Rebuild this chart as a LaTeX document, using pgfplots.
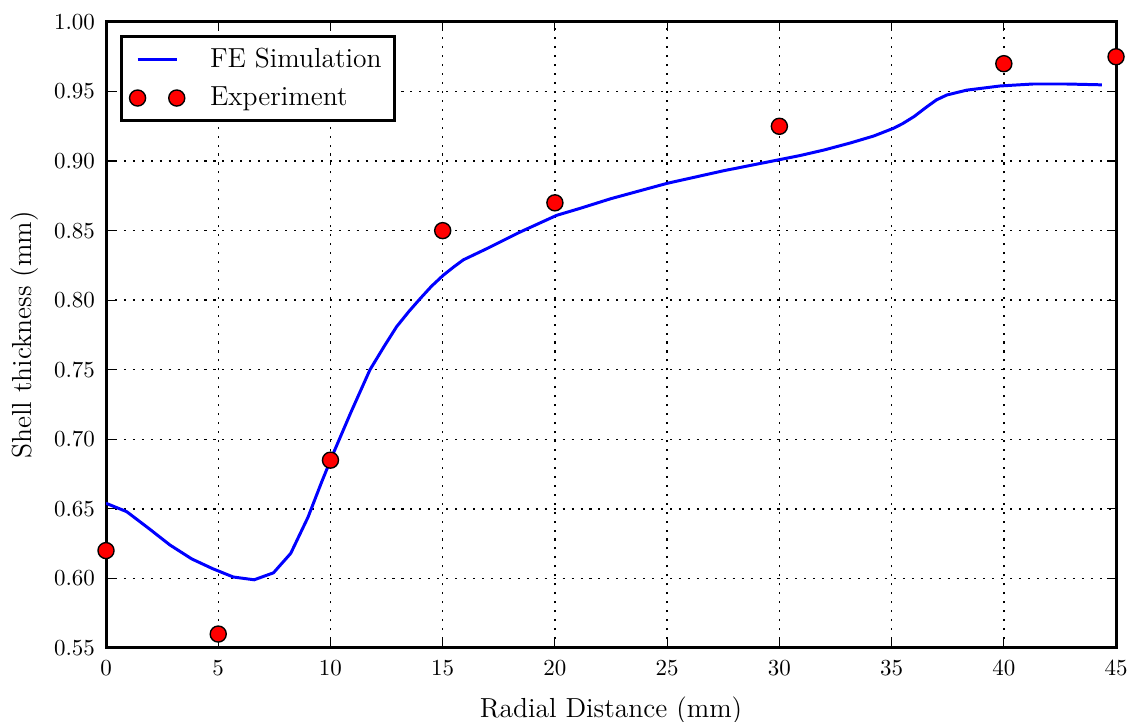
\documentclass[border=0pt]{standalone}
\usepackage{pgfplots}
\pgfplotsset{compat=1.18}
\begin{document}
\begin{tikzpicture}
\path[use as bounding box] (0,0) rectangle (494.0pt,314.5pt);
\begin{axis}[
  at={(46.18pt,32.24pt)}, anchor=south west,
  scale only axis,
  width=440pt, height=272.7pt,
  xmin=0, xmax=45, ymin=0.55, ymax=1.00,
  xtick={0,5,...,45},
  ytick={0.55,0.60,0.65,0.70,0.75,0.80,0.85,0.90,0.95,1.00},
  yticklabel style={xshift=-1.3pt, /pgf/number format/.cd,fixed,fixed zerofill,precision=2},
  tick label style={font=\normalsize},
  xticklabel style={yshift=-2pt},
  label style={font=\large},
  xlabel style={yshift=-2.3pt},
  xlabel={Radial Distance (mm)},
  ylabel={Shell thickness (mm)},
  axis line style={line width=1.3pt},
  major tick length=4pt,
  tick style={black, line width=0.5pt},
  grid=major,
  major grid style={black, line width=0.6pt, dash pattern=on 0.9pt off 3pt},
  legend style={at={(0,1)}, anchor=north west, xshift=6.1pt, yshift=-5.7pt, draw=black, line width=1.3pt, font=\large, inner xsep=3.5pt, inner ysep=3pt, row sep=3pt, column sep=9pt, cells={anchor=west}},
  legend cell align=left,
]
\addplot[blue, line width=1.3pt, mark=none] coordinates {
(0,0.654) (0.92,0.648) (1.9,0.636) (2.85,0.624) (3.82,0.614) (4.75,0.607) (5.67,0.601) (6.6,0.599) (7.46,0.604) (8.23,0.618) (9.0,0.644) (9.6,0.669) (10.13,0.690) (10.9,0.719) (11.76,0.750) (12.4,0.767) (12.95,0.781) (13.5,0.792) (13.99,0.801) (14.5,0.810) (15.03,0.818) (15.5,0.824) (15.92,0.829) (16.96,0.837) (18.45,0.849) (20.08,0.861) (21.12,0.866) (22.5,0.873) (25,0.884) (27.5,0.893) (30,0.901) (30.93,0.904) (32,0.908) (33.16,0.913) (34.2,0.918) (35.09,0.9236) (35.5,0.927) (36,0.932) (36.57,0.939) (37.0,0.944) (37.46,0.9475) (38.35,0.951) (39.84,0.954) (41.3,0.9554) (42.8,0.9554) (44.37,0.9548)
};
\addlegendentry{FE Simulation}
\addplot[only marks, mark=*, mark size=3.5pt, mark options={fill=red, draw=black, line width=0.6pt},
  legend image code/.code={\draw plot[only marks, mark=*, mark size=3.5pt, mark options={fill=red, draw=black, line width=0.6pt}] coordinates {(0cm,0cm) (0.6cm,0cm)};}] coordinates {
(0,0.62) (5,0.56) (10,0.685) (15,0.85) (20,0.87) (30,0.925) (40,0.97) (45,0.975)
};
\addlegendentry{Experiment}
\end{axis}
\end{tikzpicture}
\end{document}
